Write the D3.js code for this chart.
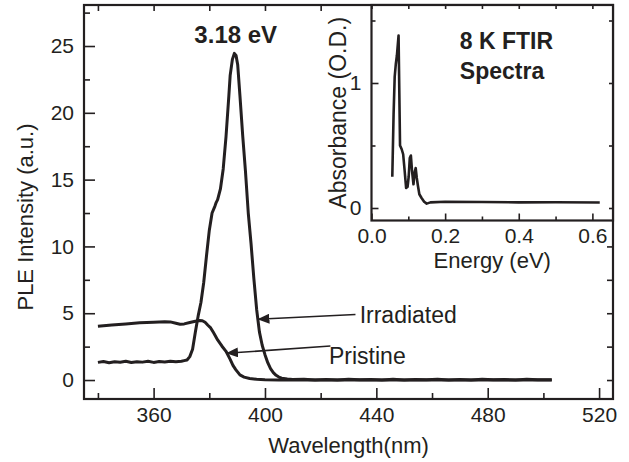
<!DOCTYPE html>
<html>
<head>
<meta charset="utf-8">
<script src="https://cdn.jsdelivr.net/npm/d3@7"></script>
<style>
  body { margin: 0; background: #fff; }
  svg { display: block; font-family: "Liberation Sans", Arial, sans-serif; }
  .tick text { fill: #231f20; }
  .tick line { stroke: #231f20; stroke-width: 1.6; }
</style>
</head>
<body>
<svg class="chart" width="629" height="462"></svg>
<script>
// PLE spectra, main panel (wavelength nm / intensity a.u.)
var irrWl = [340, 342, 344, 346, 348, 350, 352, 354, 356, 358, 360, 362, 364, 366, 368, 370, 371, 372, 373, 374, 375, 376, 377, 378, 379, 380, 381, 382, 382.5, 383, 384, 385, 386, 387, 387.5, 388.3, 389, 389.6, 390.2, 391, 392, 393, 394, 395, 396, 397, 398, 399, 400, 401, 402, 403, 404, 405, 406, 408, 410, 414, 418, 422, 426, 430, 434, 438, 442, 446, 450, 454, 458, 462, 466, 470, 474, 478, 482, 486, 490, 494, 498, 503];
var irrVal = [1.32, 1.39, 1.30, 1.37, 1.33, 1.40, 1.31, 1.37, 1.34, 1.40, 1.32, 1.38, 1.35, 1.41, 1.36, 1.40, 1.45, 1.50, 1.75, 2.3, 3.6, 4.8, 5.8, 7.3, 9.3, 11.2, 12.5, 13.0, 13.3, 13.5, 14.3, 15.8, 18.2, 21.2, 22.8, 24.0, 24.45, 24.3, 23.6, 21.3, 18.3, 15.6, 12.5, 10.2, 7.6, 5.3, 3.6, 2.6, 1.9, 1.3, 0.85, 0.55, 0.35, 0.22, 0.14, 0.07, 0.04, 0.05, 0.01, 0.04, 0.00, 0.05, 0.02, 0.04, 0.00, 0.05, 0.01, 0.04, 0.02, 0.05, 0.00, 0.04, 0.01, 0.05, 0.02, 0.04, 0.00, 0.05, 0.02, 0.03];

var priWl = [340, 345, 350, 355, 360, 364, 366, 368, 369.5, 371, 373, 375, 376.5, 377.5, 378.5, 379.5, 380.5, 381.5, 383, 384.5, 386, 387.5, 388.5, 389.5, 391, 392.5, 394.5, 397, 400, 405, 420, 460, 503];
var priVal = [4.02, 4.12, 4.20, 4.28, 4.33, 4.36, 4.35, 4.25, 4.18, 4.20, 4.30, 4.40, 4.46, 4.44, 4.32, 4.10, 3.90, 3.55, 3.00, 2.55, 2.15, 1.55, 1.10, 0.78, 0.38, 0.22, 0.12, 0.06, 0.03, 0.01, 0.0, 0.0, 0.0];

// FTIR inset (energy eV / absorbance O.D.)
var ftirE = [0.0565, 0.060, 0.063, 0.066, 0.069, 0.0735, 0.0775, 0.082, 0.086, 0.090, 0.094, 0.098, 0.101, 0.104, 0.107, 0.110, 0.114, 0.117, 0.120, 0.123, 0.126, 0.130, 0.136, 0.143, 0.150, 0.160, 0.200, 0.300, 0.400, 0.500, 0.620];
var ftirAbs = [0.25, 0.75, 1.05, 1.15, 1.22, 1.38, 0.50, 0.47, 0.43, 0.30, 0.16, 0.17, 0.25, 0.40, 0.42, 0.30, 0.19, 0.28, 0.32, 0.24, 0.18, 0.11, 0.08, 0.05, 0.035, 0.045, 0.050, 0.048, 0.045, 0.046, 0.044];

var xTicks = [360, 400, 440, 480, 520];
var xMinor = [340, 380, 420, 460, 500];
var yTicks = [0, 5, 10, 15, 20, 25];
var yMinor = [2.5, 7.5, 12.5, 17.5, 22.5, 27.5];
var inXTicks = [0.0, 0.2, 0.4, 0.6];
var inXMinor = [0.1, 0.3, 0.5];
var inYTicks = [0, 1];
var inYMinor = [0.5, 1.5];

var ink = "#231f20";
var svg = d3.select(".chart");

// main panel box
var box = {left: 84, top: 5, right: 613, bottom: 399};
var x = d3.scaleLinear().domain([335, 525]).range([box.left, box.right]);
var y = d3.scaleLinear().domain([-1.42, 28.07]).range([box.bottom, box.top]);

function zip(a, b) { return a.map(function(v, i) { return [v, b[i]]; }); }

// draw inward ticks on all four sides
function frameAxes(g, xs, ys, b, xt, xm, yt, ym, big, small, fmtX, fmtY, fs) {
	g.append("g").attr("transform", "translate(0," + b.bottom + ")")
		.call(d3.axisBottom(xs).tickValues(xt).tickSize(-big).tickPadding(8).tickFormat(fmtX))
		.attr("font-size", fs).attr("font-family", null);
	g.append("g").attr("transform", "translate(0," + b.bottom + ")")
		.call(d3.axisBottom(xs).tickValues(xm).tickSize(-small).tickFormat(""));
	g.append("g").attr("transform", "translate(0," + b.top + ")")
		.call(d3.axisTop(xs).tickValues(xt.concat(xm)).tickSize(-small).tickFormat(""));
	g.append("g").attr("transform", "translate(" + b.left + ",0)")
		.call(d3.axisLeft(ys).tickValues(yt).tickSize(-big).tickPadding(10).tickFormat(fmtY))
		.attr("font-size", fs).attr("font-family", null);
	g.append("g").attr("transform", "translate(" + b.left + ",0)")
		.call(d3.axisLeft(ys).tickValues(ym).tickSize(-small).tickFormat(""));
	g.append("g").attr("transform", "translate(" + b.right + ",0)")
		.call(d3.axisRight(ys).tickValues(yt.concat(ym)).tickSize(-small).tickFormat(""));
	g.selectAll(".domain").remove();
	g.append("rect")
		.attr("x", b.left).attr("y", b.top)
		.attr("width", b.right - b.left).attr("height", b.bottom - b.top)
		.attr("fill", "none").attr("stroke", ink).attr("stroke-width", 2.2);
}

var main = svg.append("g");
frameAxes(main, x, y, box, xTicks, xMinor, yTicks, yMinor, 11, 6,
	d3.format("d"), d3.format("d"), 21);

var line = d3.line().x(function(d) { return x(d[0]); }).y(function(d) { return y(d[1]); });

main.append("path").datum(zip(priWl, priVal))
	.attr("d", line).attr("fill", "none").attr("stroke", ink)
	.attr("stroke-width", 3).attr("stroke-linejoin", "round");
main.append("path").datum(zip(irrWl, irrVal))
	.attr("d", line).attr("fill", "none").attr("stroke", ink)
	.attr("stroke-width", 3).attr("stroke-linejoin", "round");

// axis titles
main.append("text")
	.attr("x", (box.left + box.right) / 2).attr("y", 453)
	.attr("text-anchor", "middle").attr("font-size", 22).attr("fill", ink)
	.text("Wavelength(nm)");
main.append("text")
	.attr("transform", "translate(33,217) rotate(-90)")
	.attr("text-anchor", "middle").attr("font-size", 22).attr("fill", ink)
	.text("PLE Intensity (a.u.)");

// annotations
main.append("text")
	.attr("x", x(389.5)).attr("y", 43)
	.attr("text-anchor", "middle").attr("font-size", 24).attr("font-weight", "bold").attr("fill", ink)
	.text("3.18 eV");

svg.append("defs").append("marker")
	.attr("id", "head").attr("viewBox", "0 0 12 10")
	.attr("refX", 12).attr("refY", 5)
	.attr("markerWidth", 12).attr("markerHeight", 10)
	.attr("markerUnits", "userSpaceOnUse").attr("orient", "auto")
	.append("path").attr("d", "M0,0L12,5L0,10Z").attr("fill", ink);

var arrows = [
	{from: [432.5, 4.9], to: [397.3, 4.55], label: "Irradiated", at: [434, 4.3]},
	{from: [423.5, 2.55], to: [386.0, 2.0], label: "Pristine", at: [423, 1.2]}
];
arrows.forEach(function(a) {
	main.append("line")
		.attr("x1", x(a.from[0])).attr("y1", y(a.from[1]))
		.attr("x2", x(a.to[0])).attr("y2", y(a.to[1]))
		.attr("stroke", ink).attr("stroke-width", 1.6)
		.attr("marker-end", "url(#head)");
	main.append("text")
		.attr("x", x(a.at[0])).attr("y", y(a.at[1]))
		.attr("font-size", 23).attr("fill", ink)
		.text(a.label);
});

// inset panel
var ibox = {left: 371.5, top: 5, right: 613, bottom: 220.5};
var ix = d3.scaleLinear().domain([0, 0.656]).range([ibox.left, ibox.right]);
var iy = d3.scaleLinear().domain([-0.1, 1.624]).range([ibox.bottom, ibox.top]);

var inset = svg.append("g");
inset.append("rect")
	.attr("x", ibox.left).attr("y", ibox.top)
	.attr("width", ibox.right - ibox.left).attr("height", ibox.bottom - ibox.top)
	.attr("fill", "#fff");
frameAxes(inset, ix, iy, ibox, inXTicks, inXMinor, inYTicks, inYMinor, 7, 4,
	d3.format(".1f"), d3.format("d"), 21);

var iline = d3.line().x(function(d) { return ix(d[0]); }).y(function(d) { return iy(d[1]); });
inset.append("path").datum(zip(ftirE, ftirAbs))
	.attr("d", iline).attr("fill", "none").attr("stroke", ink)
	.attr("stroke-width", 2.6).attr("stroke-linejoin", "round");

inset.append("text")
	.attr("x", (ibox.left + ibox.right) / 2).attr("y", 268)
	.attr("text-anchor", "middle").attr("font-size", 22).attr("fill", ink)
	.text("Energy (eV)");
inset.append("text")
	.attr("transform", "translate(346," + (ibox.top + ibox.bottom) / 2 + ") rotate(-90)")
	.attr("text-anchor", "middle").attr("font-size", 23).attr("fill", ink)
	.text("Absorbance (O.D.)");
inset.append("text")
	.attr("x", ix(0.24)).attr("y", iy(1.27))
	.attr("font-size", 23).attr("font-weight", "bold").attr("fill", ink)
	.text("8 K FTIR");
inset.append("text")
	.attr("x", ix(0.24)).attr("y", iy(1.03))
	.attr("font-size", 23).attr("font-weight", "bold").attr("fill", ink)
	.text("Spectra");
</script>
</body>
</html>
